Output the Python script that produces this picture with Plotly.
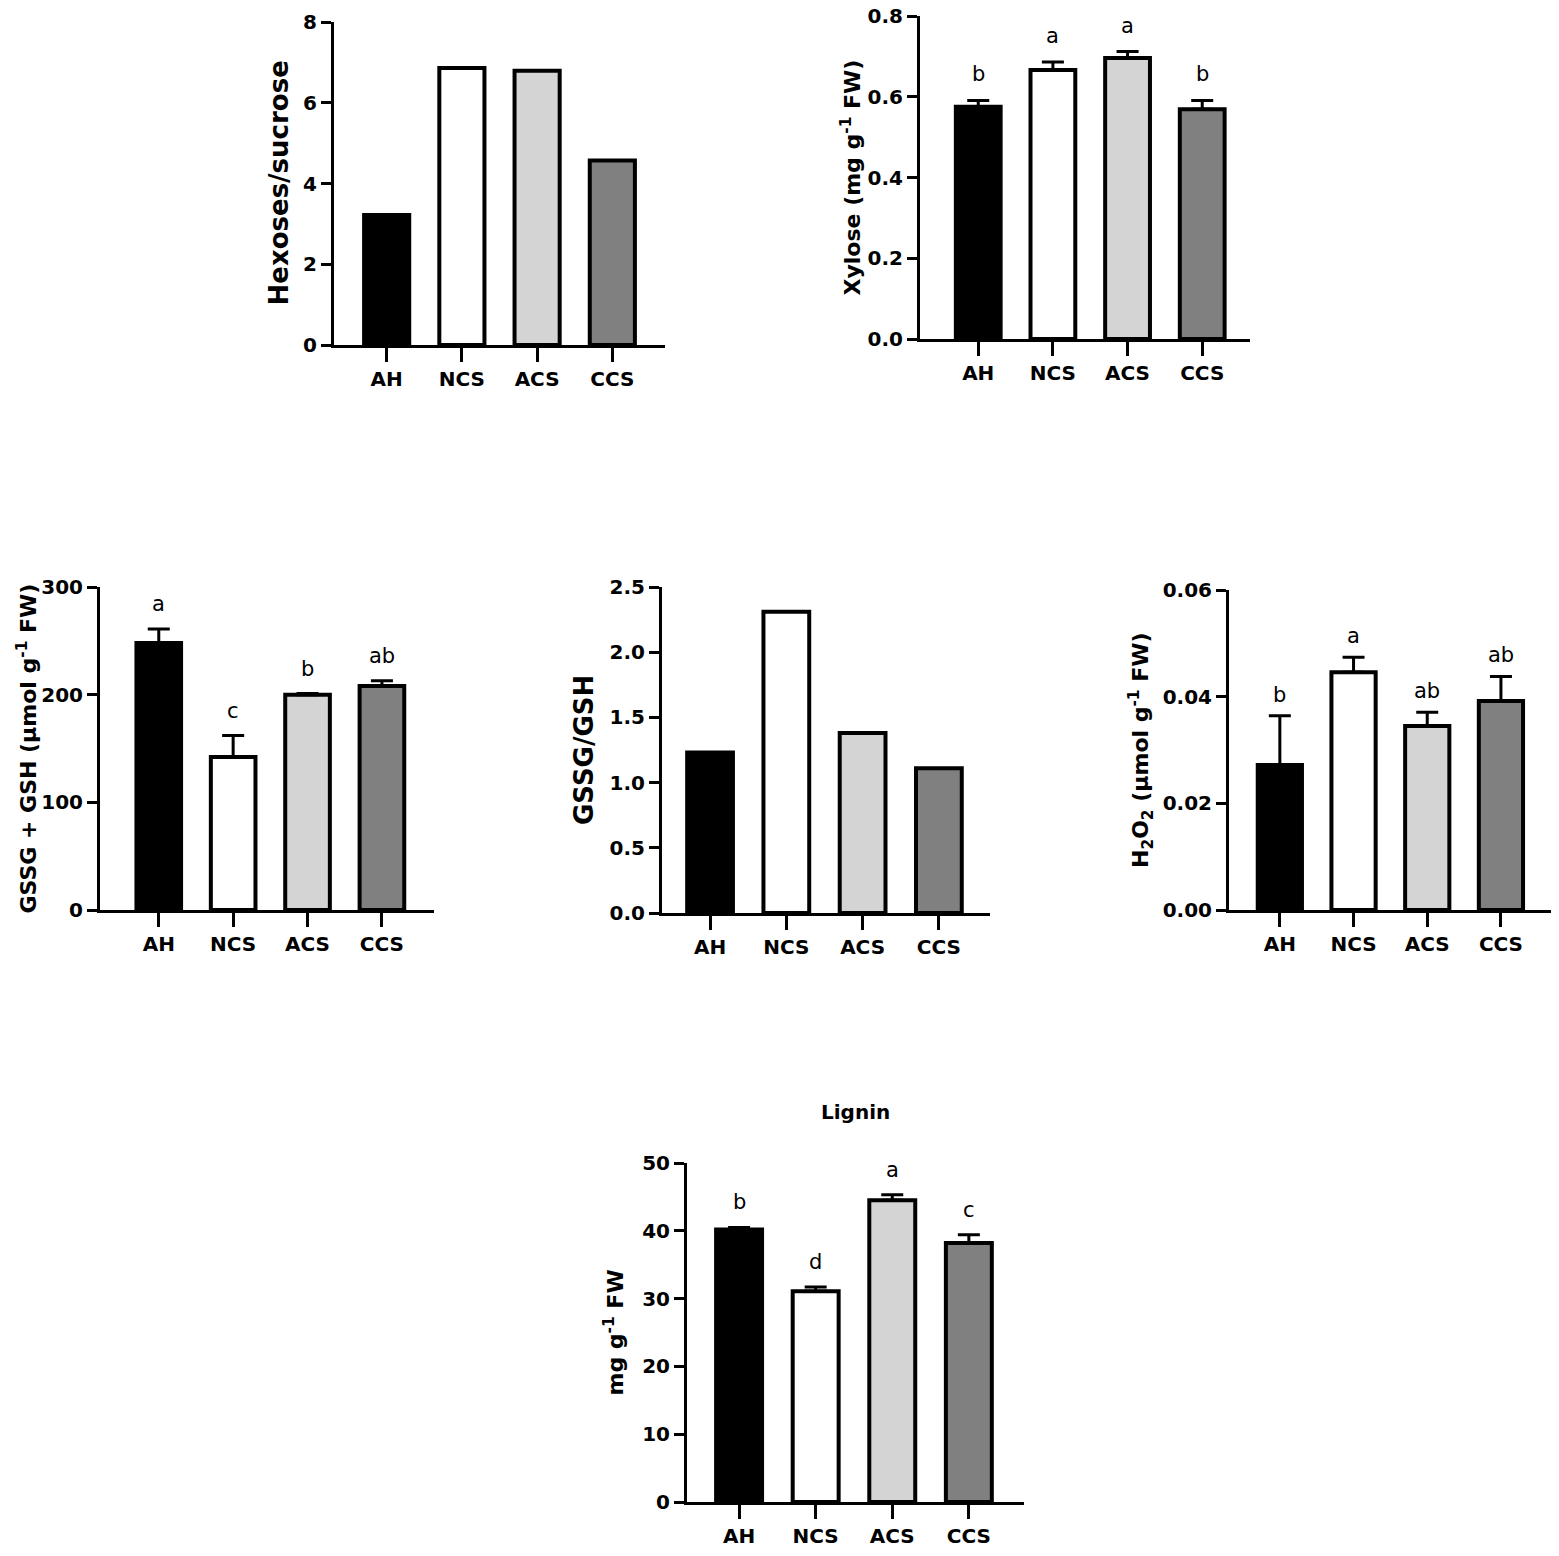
import plotly.graph_objects as go

# the page shifts the figure a few px in from the corner; compensate
PAGE_W, PAGE_H = 1559, 1556
X_OFF, Y_OFF = 6, 8
W, H = PAGE_W - X_OFF, PAGE_H - Y_OFF

# treatments and bar fills (same order in every panel)
treatments = ['AH', 'NCS', 'ACS', 'CCS']
bar_colors = ['#000000', '#ffffff', '#d4d4d4', '#808080']

hexoses_sucrose = [3.22, 6.86, 6.79, 4.57]

xylose = [0.575, 0.666, 0.696, 0.569]
xylose_err = [0.016, 0.020, 0.016, 0.022]
xylose_letters = ['b', 'a', 'a', 'b']

gssg_gsh = [248, 142, 200, 208]
gssg_gsh_err = [13, 20, 1, 5]
gssg_gsh_letters = ['a', 'c', 'b', 'ab']

gssg_ratio = [1.23, 2.31, 1.38, 1.11]

h2o2 = [0.0272, 0.0446, 0.0345, 0.0392]
h2o2_err = [0.0092, 0.0028, 0.0026, 0.0046]
h2o2_letters = ['b', 'a', 'ab', 'ab']

lignin = [40.2, 31.1, 44.5, 38.2]
lignin_err = [0.3, 0.6, 0.8, 1.2]
lignin_letters = ['b', 'd', 'a', 'c']

# panel layout: pixel box on the page (left, right, top, bottom), x range, y max, dtick,
# format, y title, title distance from axis, title size, letter shift
panels = [
    dict(vals=hexoses_sucrose, err=None, letters=None,
         box=(332, 663, 22, 345), xr=(-0.7, 3.7), ymax=8, dtick=2, fmt='d',
         title='Hexoses/sucrose', tdist=56, tsize=26, lshift=0),
    dict(vals=xylose, err=xylose_err, letters=xylose_letters,
         box=(918, 1248, 16, 339), xr=(-0.78, 3.64), ymax=0.8, dtick=0.2, fmt='.1f',
         title='Xylose (mg g<sup>-1</sup> FW)', tdist=70, tsize=22, lshift=12),
    dict(vals=gssg_gsh, err=gssg_gsh_err, letters=gssg_gsh_letters,
         box=(98, 432, 587, 910), xr=(-0.79, 3.7), ymax=300, dtick=100, fmt='d',
         title='GSSG + GSH (μmol g<sup>-1</sup> FW)', tdist=74, tsize=22, lshift=11),
    dict(vals=gssg_ratio, err=None, letters=None,
         box=(660, 988, 587, 913), xr=(-0.63, 3.67), ymax=2.5, dtick=0.5, fmt='.1f',
         title='GSSG/GSH', tdist=78, tsize=26, lshift=0),
    dict(vals=h2o2, err=h2o2_err, letters=h2o2_letters,
         box=(1227, 1552, 590, 910), xr=(-0.69, 3.72), ymax=0.06, dtick=0.02, fmt='.2f',
         title='H<sub>2</sub>O<sub>2</sub> (μmol g<sup>-1</sup> FW)', tdist=88, tsize=22, lshift=7),
    dict(vals=lignin, err=lignin_err, letters=lignin_letters,
         box=(685, 1022, 1163, 1502), xr=(-0.68, 3.72), ymax=50, dtick=10, fmt='d',
         title='mg g<sup>-1</sup> FW', tdist=74, tsize=22, lshift=11),
]

FONT = 'DejaVu Sans'
tickfont = dict(family=FONT, size=20, color='black', weight='bold')

fig = go.Figure()
annotations = []
layout_axes = {}

for i, p in enumerate(panels, start=1):
    xa = 'x' if i == 1 else f'x{i}'
    ya = 'y' if i == 1 else f'y{i}'
    left, right, top, bottom = p['box']
    left, right = left - X_OFF, right - X_OFF
    top, bottom = top - Y_OFF, bottom - Y_OFF

    err_y = None
    if p['err'] is not None:
        err_y = dict(type='data', symmetric=False, array=p['err'], arrayminus=[0] * 4,
                     color='black', thickness=3, width=11, visible=True)

    fig.add_trace(go.Bar(
        x=treatments, y=p['vals'], width=0.6,
        marker=dict(color=bar_colors, line=dict(color='black', width=4)),
        error_y=err_y, xaxis=xa, yaxis=ya, showlegend=False, hoverinfo='skip'))

    layout_axes['xaxis' if i == 1 else f'xaxis{i}'] = dict(
        domain=[left / W, min(right / W, 1)], anchor=ya, type='category',
        range=list(p['xr']), showline=True, linewidth=3, linecolor='black',
        ticks='outside', ticklen=14, tickwidth=3, tickcolor='black',
        tickfont=tickfont, ticklabelstandoff=0, ticklabeloverflow='allow',
        showgrid=False, zeroline=False, automargin=False, fixedrange=True)
    layout_axes['yaxis' if i == 1 else f'yaxis{i}'] = dict(
        domain=[max(1 - bottom / H, 0), 1 - top / H], anchor=xa,
        range=[0, p['ymax']], tickmode='linear', tick0=0, dtick=p['dtick'],
        tickformat=p['fmt'], showline=True, linewidth=3, linecolor='black',
        ticks='outside', ticklen=10, tickwidth=3, tickcolor='black',
        tickfont=tickfont, ticklabeloverflow='allow', showgrid=False,
        zeroline=False, automargin=False, fixedrange=True)

    # y-axis title
    annotations.append(dict(
        text=p['title'], textangle=-90, showarrow=False,
        xref=f'{xa} domain', yref=f'{ya} domain', x=0, y=0.5,
        xanchor='center', yanchor='middle', xshift=-p['tdist'],
        font=dict(family=FONT, size=p['tsize'], color='black', weight='bold')))

    # significance letters above the error bars
    if p['letters'] is not None:
        for cat, v, e, lab in zip(treatments, p['vals'], p['err'], p['letters']):
            annotations.append(dict(
                text=lab, showarrow=False, xref=xa, yref=ya, x=cat, y=v + e,
                xanchor='center', yanchor='bottom', yshift=p['lshift'],
                font=dict(family=FONT, size=21, color='black')))

# panel title for lignin
annotations.append(dict(
    text='Lignin', showarrow=False, xref='x6 domain', yref='y6 domain',
    x=0.5, y=1, xanchor='center', yanchor='middle', yshift=51,
    font=dict(family=FONT, size=20, color='black', weight='bold')))

fig.update_layout(
    template='none',
    width=W, height=H, margin=dict(l=0, r=0, t=0, b=0, pad=0, autoexpand=False),
    paper_bgcolor='white', plot_bgcolor='white',
    annotations=annotations, bargap=0.4, **layout_axes)

fig.write_html('out.html')
